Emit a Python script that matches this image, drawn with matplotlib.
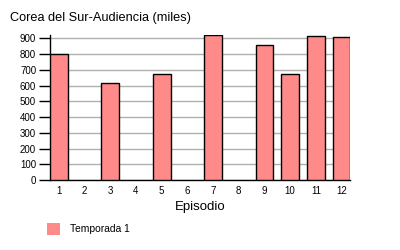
import matplotlib
matplotlib.use('Agg')
from matplotlib import pyplot as plt
from matplotlib.patches import Patch
import numpy as np

plt.rcParams['font.family'] = ['Liberation Sans', 'DejaVu Sans']

# Data (episodes 2, 4, 6, 8 have no value)
episodios = list(range(1, 13))
audiencia = [800, np.nan, 615, np.nan, 672, np.nan, 918, np.nan, 855, 670, 912, 906]
serie = 'Temporada 1'
color_barra = '#ff8a8a'

fig = plt.figure(figsize=(4, 2.5), dpi=100)
ax = fig.add_axes([0.125, 0.279, 0.751, 0.581])

ax.bar(episodios, audiencia, width=0.69, color=color_barra,
       edgecolor='black', linewidth=1, zorder=3)

ax.set_xlim(0.655, 12.345)
ax.set_ylim(0, 920)
ax.set_yticks(range(0, 1000, 100))
ax.set_xticks(episodios)
ax.yaxis.grid(True, color='#b0b0b0', linewidth=1, zorder=0)

for s in ['top', 'right']:
    ax.spines[s].set_visible(False)
ax.spines['left'].set_linewidth(1)
ax.spines['bottom'].set_linewidth(1)

ax.tick_params(axis='y', direction='out', length=8, width=1, labelsize=7, pad=2)
ax.tick_params(axis='x', length=0, labelsize=7, pad=4)

ax.set_xlabel('Episodio', fontsize=9.5, labelpad=4)
fig.text(10 / 400, 1 - 18 / 250, 'Corea del Sur-Audiencia (miles)',
         fontsize=9.2, va='center', ha='left')

handles = [Patch(facecolor=color_barra, edgecolor='none', label=serie)]
fig.legend(handles=handles, loc='center left',
           bbox_to_anchor=(47 / 400, 1 - 229 / 250), frameon=False,
           fontsize=7.4, handlelength=1.3, handleheight=1.3,
           handletextpad=0.9, borderpad=0, borderaxespad=0)

plt.savefig('out.png', dpi=100)
